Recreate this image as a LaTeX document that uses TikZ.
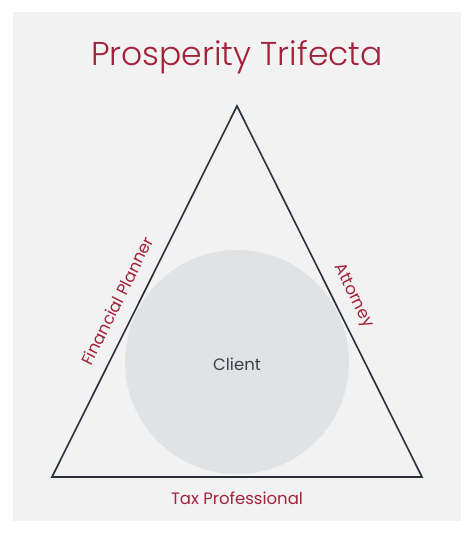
\documentclass[tikz,border=0pt]{standalone}
\usepackage{fontspec}
\setmainfont{Poppins}
\newfontfamily\lightfont{Poppins Light}
\definecolor{bg}{HTML}{F2F2F2}
\definecolor{ttl}{HTML}{A3223A}
\definecolor{edge}{HTML}{2B2F3A}
\definecolor{disc}{HTML}{E1E2E4}
\definecolor{ctext}{HTML}{3C404A}
\tikzset{
  lbl/.style={text=ttl, font=\fontsize{16.5}{20}\selectfont, inner sep=0pt},
}
\begin{document}
\begin{tikzpicture}[x=1pt,y=-1pt]
\useasboundingbox (0,0) rectangle (474,533);
\fill[bg] (13,12) rectangle (461,521);
\node[text=ttl, font=\lightfont\fontsize{33}{40}\selectfont, inner sep=0pt] (title) at (237,57) {Prosperity Trifecta};
\node[circle, fill=disc, minimum size=224pt, inner sep=0pt] (client) at (237,362) {};
\node[text=ctext, font=\fontsize{16.5}{20}\selectfont, inner sep=0pt] (clientlbl) at (237,364) {Client};
\coordinate (top) at (237,106);
\coordinate (bl) at (52,477);
\coordinate (br) at (422,477);
\draw[edge, line width=1.6pt, line join=miter] (top) -- (bl) -- (br) -- cycle;
\node[lbl, rotate=63.5] (fp) at (117,301) {Financial Planner};
\node[lbl, rotate=-63.5] (att) at (353,296) {Attorney};
\node[lbl] (tax) at (237,498) {Tax Professional};
\end{tikzpicture}
\end{document}
